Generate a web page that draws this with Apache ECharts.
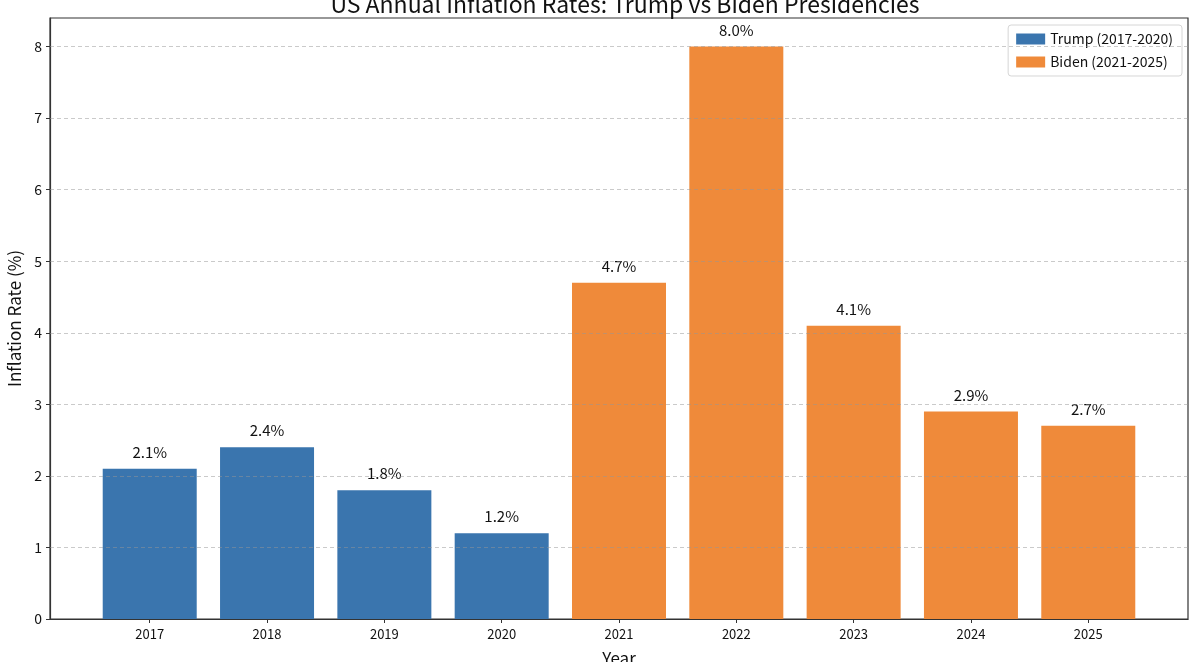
<!DOCTYPE html>
<html lang="en">
<head>
    <meta charset="UTF-8">
    <title>US Annual Inflation Rates</title>
    <script src="https://cdn.jsdelivr.net/npm/echarts@6/dist/echarts.min.js"></script>
    <style>
        * { margin: 0; padding: 0; }
        #main { width: 1199px; height: 662px; background: #fff; }
    </style>
</head>
<body>
    <div id="main"></div>
    <script>
        // data
        const years = ['2017', '2018', '2019', '2020', '2021', '2022', '2023', '2024', '2025'];
        const trumpRates = [2.1, 2.4, 1.8, 1.2];
        const bidenRates = [4.7, 8.0, 4.1, 2.9, 2.7];
        const yTicks = [0, 1, 2, 3, 4, 5, 6, 7, 8];

        const font = 'Noto Sans CJK SC';
        const trumpData = trumpRates.map(function (v, i) { return [i, v]; });
        const bidenData = bidenRates.map(function (v, i) { return [i + trumpRates.length, v]; });
        const xTicks = years.map(function (y, i) { return i; });

        var chart = echarts.init(document.getElementById('main'));

        const barLabel = {
            show: true,
            position: 'top',
            distance: 9,
            color: '#111',
            fontFamily: font,
            fontSize: 15,
            formatter: function (p) { return p.value[1].toFixed(1) + '%'; }
        };

        option = {
            backgroundColor: '#fff',
            textStyle: { fontFamily: font },
            animation: false,
            title: {
                text: 'US Annual Inflation Rates: Trump vs Biden Presidencies',
                left: 620,
                textAlign: 'center',
                top: -12,
                textStyle: { fontFamily: font, fontSize: 23, fontWeight: 'normal', color: '#111' }
            },
            legend: {
                orient: 'vertical',
                right: 17,
                top: 25,
                icon: 'rect',
                itemWidth: 29,
                itemHeight: 11,
                itemGap: 9,
                padding: [7, 9, 7, 8],
                borderColor: '#d6d6d6',
                borderWidth: 1,
                borderRadius: 3,
                backgroundColor: 'rgba(255,255,255,0.9)',
                textStyle: { fontFamily: font, fontSize: 14, color: '#111' },
                data: ['Trump (2017-2020)', 'Biden (2021-2025)']
            },
            grid: {
                left: 50, right: 11, top: 18, bottom: 43,
                outerBoundsMode: 'none',
                show: true,
                borderColor: '#333',
                borderWidth: 1.2
            },
            xAxis: {
                type: 'value',
                min: -0.85,
                max: 8.85,
                name: 'Year',
                nameLocation: 'middle',
                nameGap: 31,
                nameTextStyle: { fontFamily: font, fontSize: 17, color: '#111' },
                axisLine: { show: true, onZero: false, lineStyle: { color: '#333', width: 1.2 } },
                axisTick: { show: true, length: 4, customValues: xTicks, lineStyle: { color: '#333' } },
                axisLabel: {
                    customValues: xTicks,
                    color: '#111',
                    fontSize: 13,
                    margin: 9,
                    formatter: function (v) { return years[Math.round(v)]; }
                },
                splitLine: { show: false }
            },
            yAxis: {
                type: 'value',
                min: 0,
                max: 8.4,
                name: 'Inflation Rate (%)',
                nameLocation: 'middle',
                nameGap: 25,
                nameTextStyle: { fontFamily: font, fontSize: 17, color: '#111' },
                axisLine: { show: true, onZero: false, lineStyle: { color: '#333', width: 1.2 } },
                axisTick: { show: true, length: 4, customValues: yTicks, lineStyle: { color: '#333' } },
                axisLabel: { customValues: yTicks, color: '#111', fontSize: 14, margin: 8 },
                splitLine: { show: false }
            },
            series: [
                {
                    name: 'Trump (2017-2020)',
                    type: 'bar',
                    barWidth: 94,
                    barGap: '-100%',
                    itemStyle: { color: '#3a75ae' },
                    label: barLabel,
                    data: trumpData
                },
                {
                    name: 'Biden (2021-2025)',
                    type: 'bar',
                    barWidth: 94,
                    barGap: '-100%',
                    itemStyle: { color: '#ef8a3a' },
                    label: barLabel,
                    data: bidenData,
                    // dashed grid drawn over the bars, like the reference
                    markLine: {
                        silent: true,
                        symbol: 'none',
                        label: { show: false },
                        lineStyle: { color: 'rgba(150,150,150,0.5)', type: [4, 3], width: 1 },
                        data: yTicks.slice(1).map(function (t) { return { yAxis: t }; })
                    }
                }
            ]
        };
        chart.setOption(option);
    </script>
</body>
</html>
